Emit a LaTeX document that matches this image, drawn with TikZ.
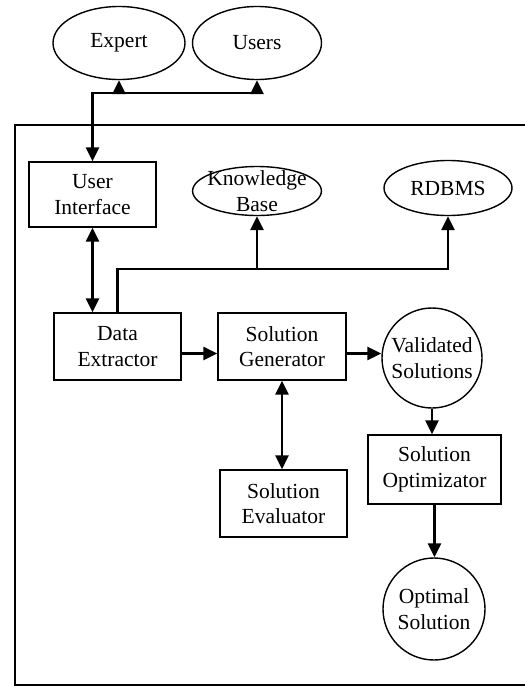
\documentclass[tikz,border=0pt]{standalone}
\usepackage{fontspec}
\setmainfont{Liberation Serif}
\usetikzlibrary{shapes.geometric,arrows.meta}

\begin{document}
\begin{tikzpicture}[x=1pt,y=-1pt,
  font=\fontsize{21.5}{25.5}\selectfont,
  box/.style={draw,line width=1.4pt,align=center,inner sep=0pt,minimum width=127pt,minimum height=67pt},
  oval/.style={draw,ellipse,line width=1.4pt,align=center,inner sep=0pt},
  disc/.style={draw,circle,line width=1.4pt,align=center,inner sep=0pt},
  link/.style={line width=2.8pt,-{Triangle[length=14pt,width=13pt]}},
  twoway/.style={line width=2.8pt,{Triangle[length=14pt,width=13pt]}-{Triangle[length=14pt,width=13pt]}}]
\useasboundingbox (0,0) rectangle (525,686);

% Outer frame (open to the right)
\draw[line width=1.5pt] (530,125) -- (15,125) -- (15,685) -- (530,685);

% Actors
\node[oval,minimum width=132pt,minimum height=73pt] (expert) at (119,43) {Expert};
\node[oval,minimum width=129pt,minimum height=73pt] (users) at (257,43) {Users};

% Stores
\node[oval,inner xsep=-4pt,inner ysep=-3pt] (kb) at (257,191) {Knowledge\\Base};
\node[oval,minimum width=128pt,minimum height=55pt] (rdbms) at (448,188) {RDBMS};

% Processing blocks
\node[box,minimum height=65pt] (ui) at (92.5,194.5) {User\\Interface};
\node[box] (de) at (117.5,346.5) {Data\\Extractor};
\node[box,minimum width=128pt] (sg) at (282,346.5) {Solution\\Generator};
\node[box] (se) at (283.5,503.5) {Solution\\Evaluator};
\node[box,minimum width=133pt,minimum height=69pt] (so) at (434.5,469.5) {Solution\\Optimizator};

% Results
\node[disc,minimum size=100pt] (vs) at (432,358) {Validated\\Solutions};
\node[disc,minimum size=102pt] (os) at (434,609) {Optimal\\Solution};

% Connectors
\coordinate (hub) at (92.5,93);
\coordinate (bus) at (117.5,269);
\draw[twoway] (ui.north) -- (hub) -| (users);
\draw[link] (hub -| expert) -- (expert);
\draw[twoway] (ui.south) -- (ui.south |- de.north);
\draw[link] (de.north) -- (bus) -| (rdbms);
\draw[link] (bus -| kb) -- (kb);
\draw[link] ([yshift=-7pt]de.east) -- ([yshift=-7pt]sg.west);
\draw[link] ([yshift=-7pt]sg.east) -- ([yshift=-7pt]sg.east -| vs.west);
\draw[twoway] (sg.south) -- (sg.south |- se.north);
\draw[link] (vs.south) -- (vs.south |- so.north);
\draw[link] (so.south) -- (so.south |- os.north);

\end{tikzpicture}
\end{document}
